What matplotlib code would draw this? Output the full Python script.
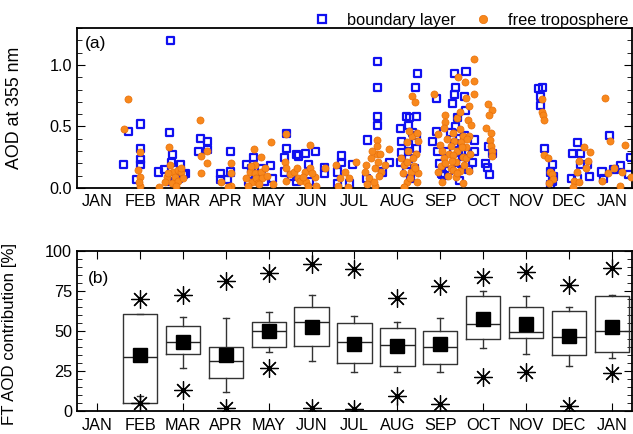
import matplotlib
matplotlib.use("Agg")
import matplotlib.pyplot as plt
from matplotlib.lines import Line2D

plt.rcParams['font.family'] = ['Liberation Sans', 'DejaVu Sans']
plt.rcParams['font.size'] = 11

month_labels = ['JAN', 'FEB', 'MAR', 'APR', 'MAY', 'JUN', 'JUL',
                'AUG', 'SEP', 'OCT', 'NOV', 'DEC', 'JAN']

# (a) boundary layer AOD, time in months (0 = mid JAN)
bl_t = [0.62, 0.73, 1.01, 1.01, 1.01, 1.01, 0.93, 1.44, 1.58, 1.68, 1.71, 1.75, 1.74, 1.72, 1.81, 1.89, 1.95, 2.01,
        2.42, 2.57, 2.37, 2.57, 2.05, 2.88, 3.11, 3.12, 2.88, 3.05,
        3.48, 3.64, 3.60, 3.83, 4.05, 4.08, 3.91, 3.52, 3.70,
        4.41, 4.41, 4.37, 4.64, 4.64, 4.37, 4.53, 4.70, 4.85, 5.09, 4.93, 4.95,
        5.30, 5.30, 5.70, 5.70, 5.61, 5.96, 5.88, 5.61,
        6.53, 6.53, 6.53, 6.54, 6.30, 6.66, 6.81, 6.27,
        7.07, 7.22, 7.10, 7.10, 7.07, 7.22, 7.46, 7.42, 7.28, 7.44, 7.26, 7.44, 7.25, 7.44, 7.27, 7.40,
        7.35, 7.30,
        7.91, 7.91, 7.82, 7.93, 8.05, 8.10, 8.20, 8.33, 8.60, 8.36, 8.33, 8.29, 8.56, 8.58, 8.40, 8.36,
        8.56, 8.33, 8.58, 8.36, 7.98, 8.02, 8.50, 8.65, 8.45, 8.15, 8.45, 8.25, 8.50, 8.40,
        8.79, 8.79, 8.75, 9.06, 9.14, 9.22, 9.13, 9.10,
        10.38, 10.30, 10.34, 10.34, 10.43, 10.61, 10.57, 10.64, 10.61, 10.57,
        11.19, 11.08, 11.26, 11.27, 11.49, 11.19, 11.05, 11.43,
        11.95, 11.77, 11.81, 12.05, 12.20, 12.40, 12.44]
bl_aod = [0.19, 0.46, 0.52, 0.32, 0.23, 0.19, 0.07, 0.13, 0.15, 0.45, 1.20, 0.27, 0.21, 0.05, 0.05, 0.08, 0.19, 0.11,
          0.40, 0.38, 0.30, 0.31, 0.12, 0.12, 0.30, 0.13, 0.07, 0.07,
          0.19, 0.25, 0.16, 0.16, 0.18, 0.08, 0.05, 0.05, 0.10,
          0.44, 0.32, 0.25, 0.27, 0.05, 0.13, 0.09, 0.26, 0.28, 0.30, 0.19, 0.05,
          0.17, 0.12, 0.26, 0.21, 0.13, 0.19, 0.04, 0.04,
          1.03, 0.82, 0.58, 0.51, 0.39, 0.13, 0.21, 0.08,
          0.48, 0.58, 0.38, 0.29, 0.21, 0.13, 0.93, 0.82, 0.57, 0.58, 0.51, 0.43, 0.35, 0.32, 0.24, 0.16,
          0.45, 0.08,
          0.73, 0.46, 0.38, 0.30, 0.11, 0.10, 0.14, 0.93, 0.95, 0.82, 0.76, 0.69, 0.74, 0.63, 0.57, 0.50,
          0.43, 0.36, 0.30, 0.23, 0.20, 0.12, 0.20, 0.15, 0.06, 0.30, 0.40, 0.45, 0.30, 0.15,
          0.39, 0.30, 0.21, 0.20, 0.11, 0.28, 0.34, 0.17,
          0.82, 0.81, 0.74, 0.67, 0.32, 0.19, 0.13, 0.09, 0.05, 0.03,
          0.37, 0.28, 0.28, 0.19, 0.09, 0.08, 0.08, 0.19,
          0.43, 0.13, 0.08, 0.15, 0.18, 0.11, 0.25]

# (a) free troposphere AOD
ft_t = [0.73, 0.63, 1.01, 0.96, 0.99, 1.01, 0.98, 1.68, 1.70, 1.78, 1.62, 1.89, 1.95, 1.81, 1.58, 1.74, 1.89, 1.96, 1.44, 2.01,
        1.85, 1.65,
        2.39, 2.42, 2.57, 2.56, 2.42, 3.11, 3.11, 2.88, 3.13, 3.05,
        3.65, 4.05, 3.81, 3.56, 3.67, 3.83, 3.91, 3.48, 3.60, 3.70, 3.85, 3.74, 3.52, 4.10, 3.67,
        3.95, 3.58, 3.77,
        4.41, 4.37, 4.41, 4.49, 4.60, 4.68, 4.41,
        4.97, 4.67, 4.84, 4.97, 4.73, 4.88, 5.07, 5.10, 5.31, 4.80, 4.92, 5.00,
        5.57, 5.77, 5.88, 6.04, 5.61, 5.84, 5.67,
        6.52, 6.52, 6.52, 6.39, 6.27, 6.47, 6.62, 6.33, 6.47, 6.81, 6.24, 6.56, 6.70,
        6.40, 6.58, 6.45, 6.30, 6.60,
        7.09, 7.16, 7.12, 7.22, 7.16,
        7.35, 7.40, 7.34, 7.23, 7.47, 7.25, 7.44, 7.23, 7.38, 7.47, 7.32, 7.42, 7.16,
        7.30, 7.45, 7.36, 7.28, 7.45,
        7.86, 8.79, 8.42, 8.58, 8.79, 8.60, 8.67, 8.79, 9.12, 9.21, 9.14, 8.11, 8.11, 8.09,
        8.40, 8.64, 8.71, 8.29, 8.52, 8.67, 8.33, 8.48, 8.25, 8.60, 8.40, 8.21, 8.52, 8.36, 8.60, 8.09,
        8.02, 8.25, 7.94, 8.17, 8.36, 8.54, 7.95, 8.00, 8.45, 8.55, 8.30, 8.70, 8.45,
        8.05, 8.15, 8.30, 8.40, 8.50, 8.62, 8.45, 8.28, 8.12, 8.68, 8.05,
        9.06, 9.19, 9.16, 9.19, 9.20, 9.20,
        10.38, 10.37, 10.40, 10.41, 10.41, 10.52, 10.57, 10.61, 10.63, 10.54,
        11.36, 11.49, 11.23, 11.44, 11.39, 11.19, 11.12, 11.23, 11.09,
        11.85, 11.95, 12.30, 11.77, 11.91, 12.05, 12.24, 12.44, 12.20]
ft_aod = [0.72, 0.48, 0.29, 0.15, 0.09, 0.02, 0.05, 0.33, 0.19, 0.13, 0.09, 0.15, 0.13, 0.09, 0.05, 0.04, 0.06, 0.16, 0.01, 0.08,
          0.02, 0.12,
          0.55, 0.26, 0.30, 0.20, 0.12, 0.20, 0.12, 0.05, 0.02, 0.01,
          0.32, 0.37, 0.25, 0.13, 0.12, 0.13, 0.16, 0.08, 0.05, 0.08, 0.08, 0.04, 0.02, 0.03, 0.19,
          0.10, 0.18, 0.03,
          0.44, 0.21, 0.16, 0.11, 0.13, 0.08, 0.06,
          0.35, 0.16, 0.13, 0.16, 0.06, 0.05, 0.09, 0.02, 0.16, 0.09, 0.02, 0.12,
          0.19, 0.13, 0.08, 0.21, 0.02, 0.01, 0.08,
          0.39, 0.34, 0.28, 0.24, 0.19, 0.16, 0.13, 0.08, 0.02, 0.32, 0.13, 0.21, 0.19,
          0.30, 0.10, 0.05, 0.03, 0.28,
          0.24, 0.19, 0.12, 0.05, 0.01,
          0.75, 0.70, 0.42, 0.37, 0.38, 0.30, 0.28, 0.21, 0.18, 0.12, 0.13, 0.16, 0.01,
          0.08, 0.05, 0.24, 0.46, 0.45,
          0.76, 1.05, 0.90, 0.86, 0.87, 0.73, 0.67, 0.76, 0.68, 0.63, 0.59, 0.59, 0.54, 0.49,
          0.57, 0.55, 0.51, 0.45, 0.42, 0.42, 0.38, 0.37, 0.34, 0.33, 0.30, 0.28, 0.25, 0.21, 0.24, 0.24,
          0.18, 0.16, 0.13, 0.10, 0.09, 0.04, 0.44, 0.35, 0.48, 0.19, 0.27, 0.28, 0.14,
          0.30, 0.40, 0.15, 0.12, 0.33, 0.40, 0.62, 0.22, 0.20, 0.14, 0.05,
          0.49, 0.45, 0.39, 0.34, 0.30, 0.26,
          0.72, 0.62, 0.59, 0.55, 0.27, 0.24, 0.13, 0.11, 0.07, 0.04,
          0.33, 0.29, 0.22, 0.22, 0.16, 0.13, 0.06, 0.05, 0.01,
          0.73, 0.38, 0.35, 0.06, 0.12, 0.16, 0.13, 0.09, 0.02]

# (b) FT AOD contribution statistics, FEB .. JAN
box_pos = [1, 2, 3, 4, 5, 6, 7, 8, 9, 10, 11, 12]
q1 = [5.2, 35.6, 20.8, 40.2, 40.6, 29.8, 28.3, 29.6, 44.8, 45.4, 35.2, 36.9]
q3 = [60.6, 52.9, 40.0, 55.4, 65.2, 55.0, 51.7, 50.0, 71.9, 65.2, 62.3, 72.1]
med = [33.5, 42.9, 31.5, 50.0, 55.4, 43.3, 41.2, 40.2, 54.2, 49.4, 46.0, 50.2]
mean = [35.0, 42.9, 34.8, 50.0, 52.3, 41.9, 40.6, 41.7, 57.5, 54.2, 46.6, 52.7]
whis_lo = [9.6, 27.1, 12.1, 37.1, 31.2, 24.2, 24.6, 24.6, 39.2, 35.4, 28.3, 32.9]
whis_hi = [60.6, 58.9, 57.9, 62.1, 72.5, 59.6, 55.8, 58.3, 75.0, 72.1, 64.8, 72.5]
vmin = [4.8, 13.1, 1.7, 27.1, 2.1, 1.2, 9.6, 4.2, 21.3, 24.2, 3.3, 24.0]
vmax = [69.8, 72.5, 81.5, 86.0, 91.9, 88.5, 70.8, 78.3, 83.8, 86.7, 78.8, 89.2]

blue = '#1010F0'
orange = '#F8881C'

fig = plt.figure(figsize=(6.33, 4.34), dpi=100)
ax1 = fig.add_axes([0.1216, 0.5668, 0.8768, 0.3687])
ax2 = fig.add_axes([0.1216, 0.0530, 0.8768, 0.3687])

# ---- panel (a)
ax1.scatter(bl_t, bl_aod, marker='s', s=26, facecolors='none', edgecolors=blue,
            linewidths=1.6, zorder=2)
ax1.scatter(ft_t, ft_aod, marker='o', s=26, color=orange, edgecolors='#E8700A',
            linewidths=0.5, zorder=3)
ax1.set_xlim(-0.47, 12.47)
ax1.set_ylim(0, 1.3)
ax1.set_xticks(range(13))
ax1.set_xticklabels(month_labels)
ax1.set_yticks([0, 0.5, 1.0])
ax1.set_yticklabels(['0.0', '0.5', '1.0'])
ax1.set_yticks([i / 10 for i in range(14)], minor=True)
ax1.tick_params(axis='x', length=0, pad=4, labelsize=11.7)
ax1.tick_params(axis='y', which='major', direction='in', length=6, right=True, labelsize=11.7)
ax1.tick_params(axis='y', which='minor', direction='in', length=3.5, right=True)
ax1.set_ylabel('AOD at 355 nm', fontsize=12.8)
ax1.yaxis.set_label_coords(-0.097, 0.5)
ax1.text(0.014, 0.9, '(a)', transform=ax1.transAxes, fontsize=12.5, va='center')
for s in ax1.spines.values():
    s.set_linewidth(1.3)

handles = [Line2D([], [], marker='s', ls='none', mfc='none', mec=blue, mew=1.6, ms=6),
           Line2D([], [], marker='o', ls='none', color=orange, mec='#E8700A', mew=0.5, ms=6)]
ax1.legend(handles, ['boundary layer', 'free troposphere'], ncol=2, frameon=False,
           loc='lower right', bbox_to_anchor=(0.996, 0.99), borderaxespad=0,
           handlelength=1.0, handletextpad=1.0, columnspacing=1.2,
           fontsize=11.8, borderpad=0.1)

# ---- panel (b)
stats = []
for i in range(len(box_pos)):
    stats.append({'q1': q1[i], 'q3': q3[i], 'med': med[i],
                  'whislo': whis_lo[i], 'whishi': whis_hi[i], 'fliers': []})
line_kw = dict(color='#333333', linewidth=1.0)
ax2.bxp(stats, positions=box_pos, widths=0.8, showfliers=False, capwidths=0.14,
        boxprops=line_kw, whiskerprops=line_kw, capprops=line_kw,
        medianprops=dict(color='#222222', linewidth=1.0), manage_ticks=False)
ax2.plot(box_pos, mean, 's', color='black', ms=10, zorder=4)
ax2.plot(box_pos, vmax, ls='none', marker=(8, 2, 0), color='black', ms=13, mew=0.9, zorder=4)
ax2.plot(box_pos, vmin, ls='none', marker=(8, 2, 0), color='black', ms=13, mew=0.9, zorder=4)
ax2.plot(box_pos, vmax, '.', color='black', ms=4, zorder=5)
ax2.plot(box_pos, vmin, '.', color='black', ms=4, zorder=5)
ax2.set_xlim(-0.47, 12.47)
ax2.set_ylim(0, 100)
ax2.set_xticks(range(13))
ax2.set_xticklabels(month_labels)
ax2.set_yticks([0, 25, 50, 75, 100])
ax2.set_yticks(range(0, 101, 5), minor=True)
ax2.tick_params(axis='x', direction='in', length=6, top=True, pad=5, labelsize=11.7)
ax2.tick_params(axis='y', which='major', direction='in', length=6, right=True, labelsize=11.7)
ax2.tick_params(axis='y', which='minor', direction='in', length=3.5, right=True)
ax2.set_ylabel('FT AOD contribution [%]', fontsize=12.2)
ax2.yaxis.set_label_coords(-0.108, 0.48)
ax2.text(0.02, 0.83, '(b)', transform=ax2.transAxes, fontsize=12.5, va='center')
for s in ax2.spines.values():
    s.set_linewidth(1.3)

fig.savefig('out.png', dpi=100)
